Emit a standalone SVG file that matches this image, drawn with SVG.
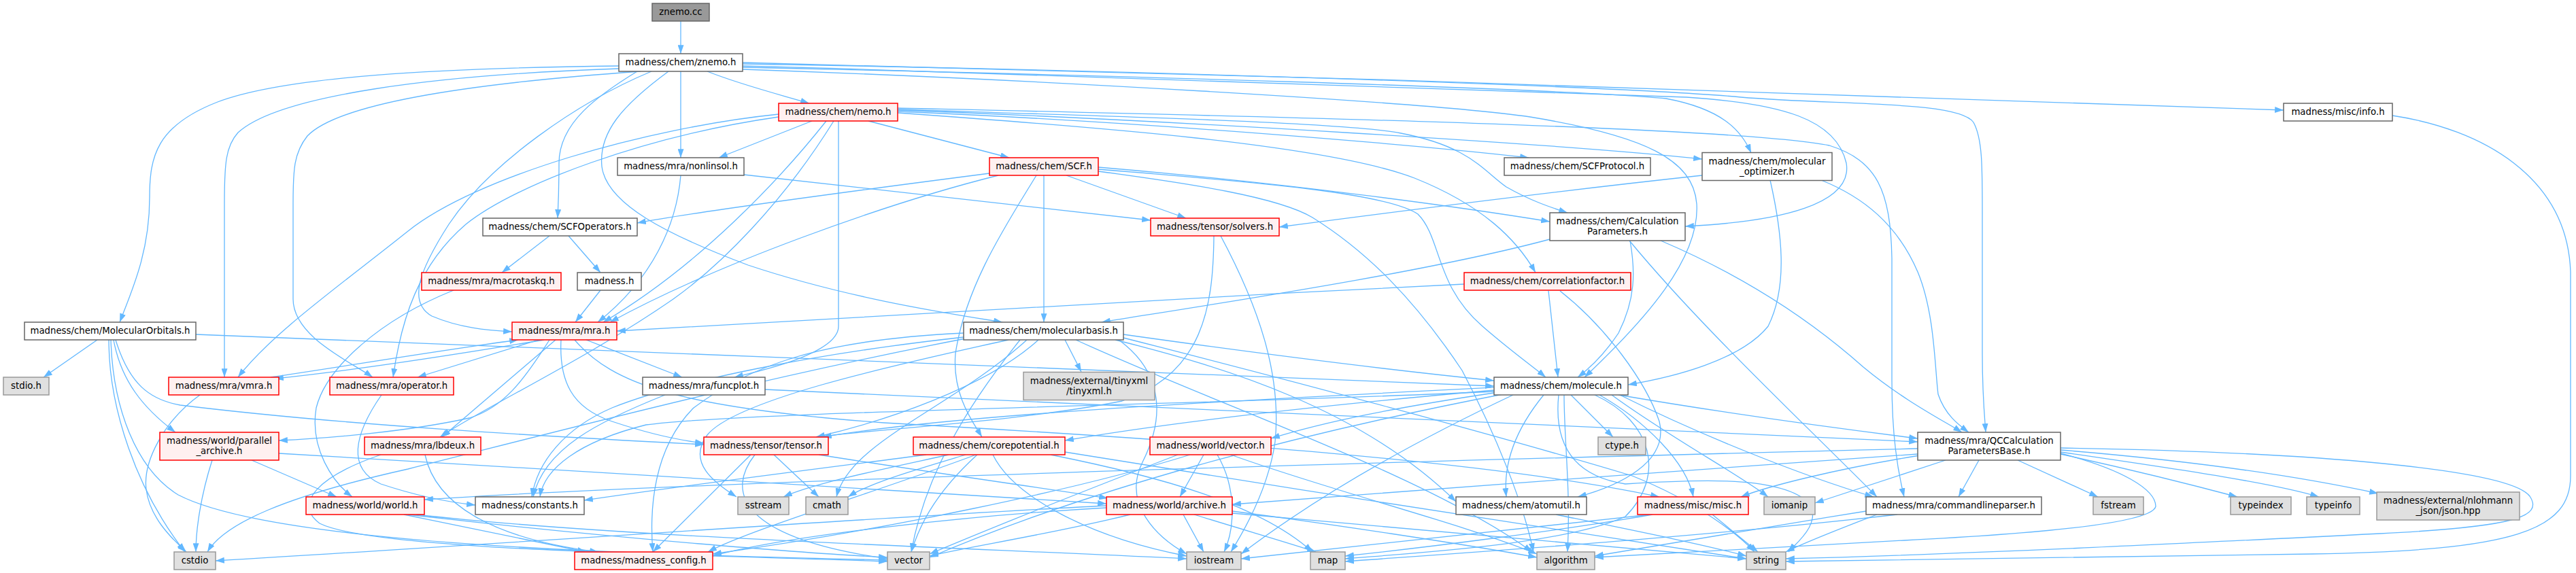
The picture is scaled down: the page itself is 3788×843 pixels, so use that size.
<svg xmlns="http://www.w3.org/2000/svg" width="3788" height="843" viewBox="0 0 3788 843">
<style>
.e{fill:none;stroke:#63b8ff;stroke-width:1.3;marker-end:url(#a)}
rect{stroke-width:1.5}
.w rect{fill:#ffffff;stroke:#666666}
.r rect{fill:#fff0f0;stroke:#ff0000}
.g rect{fill:#e0e0e0;stroke:#999999}
.root rect{fill:#999999;stroke:#666666}
text{font-family:"DejaVu Sans","Liberation Sans",sans-serif;font-size:13.3px;fill:#000000;text-anchor:middle}
</style>
<defs>
<marker id="a" viewBox="0 0 10 7" refX="10" refY="3.5" markerWidth="13" markerHeight="9" markerUnits="userSpaceOnUse" orient="auto"><path d="M0,0L10,3.5L0,7z" fill="#63b8ff"/></marker>
</defs>
<rect x="0" y="0" width="3788" height="843" fill="#ffffff" stroke="none"/>
<g id="edges">
<path class="e" d="M1001,31 L1001,79"/>
<path class="e" d="M1040,105 C1090,125 1150,140 1190,152"/>
<path class="e" d="M1001,105 L1001,232"/>
<path class="e" d="M937,105 C880,140 822,180 822,240 C822,280 821,300 820,321"/>
<path class="e" d="M910,97 C650,100 420,112 320,150 C230,185 220,230 220,290 C220,370 195,425 176,474"/>
<path class="e" d="M910,101 C640,110 410,140 350,195 C332,215 330,240 330,300 L330,555"/>
<path class="e" d="M942,105 C700,122 500,150 452,200 C432,225 431,250 431,300 L431,440 C431,495 515,532 548,555"/>
<path class="e" d="M958,105 C850,150 720,240 660,330 C615,400 600,445 635,465 C675,482 715,486 753,488"/>
<path class="e" d="M983,105 C915,155 880,195 885,245 C892,300 980,345 1100,390 C1250,440 1400,462 1474,474"/>
<path class="e" d="M1092,92 C1800,108 2800,140 3358,162"/>
<path class="e" d="M1092,94 C1700,104 2400,128 2560,143 C2700,155 2880,148 2902,180 C2916,205 2915,250 2915,330 L2915,520 C2915,580 2918,610 2920,636"/>
<path class="e" d="M1092,97 C1700,113 2350,135 2480,143 C2620,152 2700,175 2715,240 C2725,300 2620,326 2478,333"/>
<path class="e" d="M1092,99 C1600,110 2300,130 2450,145 C2530,160 2560,190 2575,225"/>
<path class="e" d="M1092,102 C1500,116 2100,150 2250,172 C2420,200 2490,235 2495,300 C2500,380 2420,470 2330,555"/>
<path class="e" d="M1277,178 L1484,232"/>
<path class="e" d="M1194,178 L1057,232"/>
<path class="e" d="M1215,178 C1150,260 1030,390 887,474"/>
<path class="e" d="M1226,178 C1150,300 1060,390 990,440 C860,530 710,600 647,643"/>
<path class="e" d="M1233,178 C1233,300 1233,420 1233,480 C1233,520 1120,545 1080,555"/>
<path class="e" d="M1145,168 C950,188 700,260 600,340 C500,420 400,490 350,555"/>
<path class="e" d="M1145,172 C950,200 760,270 685,330 C615,390 590,470 578,555"/>
<path class="e" d="M1320,164 C1700,180 2100,215 2248,232"/>
<path class="e" d="M1320,162 C1700,176 2300,212 2503,234"/>
<path class="e" d="M1320,161 C1600,170 1980,180 2060,196 C2160,215 2180,250 2215,275 C2250,295 2280,305 2305,313"/>
<path class="e" d="M1320,166 C1600,186 1950,212 2080,262 C2180,302 2230,352 2258,401"/>
<path class="e" d="M1320,159 C1800,170 2550,186 2690,214 C2760,236 2780,280 2782,380 L2782,560 C2782,640 2790,690 2800,731"/>
<path class="e" d="M1568,258 L1744,321"/>
<path class="e" d="M1535,258 L1535,474"/>
<path class="e" d="M1524,258 C1480,330 1420,420 1405,520 C1400,580 1430,620 1444,643"/>
<path class="e" d="M1455,255 C1200,288 1000,316 937,328"/>
<path class="e" d="M1468,258 C1300,300 1050,390 897,474"/>
<path class="e" d="M1615,246 C1900,270 2150,305 2279,326"/>
<path class="e" d="M1615,249 C1850,268 2040,284 2085,315 C2120,350 2110,420 2180,480 C2220,515 2255,540 2273,555"/>
<path class="e" d="M1615,252 C1750,270 1880,290 1930,320 C2010,370 2080,440 2150,545 C2200,640 2240,740 2255,812"/>
<path class="e" d="M1001,258 C995,330 960,410 879,474"/>
<path class="e" d="M1094,257 L1692,324"/>
<path class="e" d="M808,347 L738,401"/>
<path class="e" d="M836,347 L883,401"/>
<path class="e" d="M667,427 C560,470 480,540 465,600 C455,660 490,710 518,731"/>
<path class="e" d="M883,427 L846,474"/>
<path class="e" d="M1785,347 C1784,450 1770,550 1650,590 C1500,620 1300,630 1200,643"/>
<path class="e" d="M1795,347 C1850,450 1885,550 1875,650 C1865,720 1830,780 1810,812"/>
<path class="e" d="M2503,258 C2300,280 2100,305 1881,334"/>
<path class="e" d="M2603,265 C2620,340 2630,420 2600,480 C2560,530 2460,555 2394,566"/>
<path class="e" d="M2678,265 C2740,290 2790,330 2820,400 C2845,460 2845,540 2850,580 C2860,610 2880,625 2895,636"/>
<path class="e" d="M2279,352 C2100,400 1800,445 1620,474"/>
<path class="e" d="M2397,354 C2405,400 2405,440 2380,490 C2360,520 2340,540 2320,555"/>
<path class="e" d="M2442,354 C2550,400 2650,460 2740,540 C2800,590 2860,620 2885,636"/>
<path class="e" d="M2396,354 C2500,480 2650,620 2760,731"/>
<path class="e" d="M2153,418 C1700,440 1200,470 907,487"/>
<path class="e" d="M2277,428 L2291,555"/>
<path class="e" d="M2294,428 C2360,480 2420,560 2440,620 C2455,680 2380,715 2320,731"/>
<path class="e" d="M143,500 L64,555"/>
<path class="e" d="M167,500 C178,560 210,600 258,636"/>
<path class="e" d="M160,500 C160,600 200,720 272,812"/>
<path class="e" d="M288,492 C900,515 1600,545 2197,568"/>
<path class="e" d="M170,500 C190,565 220,588 265,596 C500,625 800,642 1035,654"/>
<path class="e" d="M163,500 C166,600 200,690 262,728 C400,800 900,815 1305,824"/>
<path class="e" d="M398,555 C500,540 650,515 762,500"/>
<path class="e" d="M294,581 C240,620 210,680 215,720 C220,760 250,790 274,812"/>
<path class="e" d="M800,500 C680,520 520,545 404,557"/>
<path class="e" d="M792,500 L614,555"/>
<path class="e" d="M808,500 C770,560 740,600 690,615 C600,635 480,645 410,648"/>
<path class="e" d="M817,500 L650,643"/>
<path class="e" d="M862,500 L1003,555"/>
<path class="e" d="M825,500 C822,560 840,600 900,620 C960,640 1000,648 1035,652"/>
<path class="e" d="M845,500 C900,565 1000,600 1300,622 C1800,650 2200,680 2440,731"/>
<path class="e" d="M561,581 C520,640 510,690 560,712 C620,732 670,740 699,743"/>
<path class="e" d="M312,677 C295,730 288,780 288,812"/>
<path class="e" d="M370,677 L495,731"/>
<path class="e" d="M410,667 C800,690 1300,720 1627,741"/>
<path class="e" d="M625,669 C640,740 720,792 880,812"/>
<path class="e" d="M560,669 C470,700 430,740 470,770 C550,810 1000,815 1305,826"/>
<path class="e" d="M594,757 L862,812"/>
<path class="e" d="M612,757 C900,790 1400,805 1745,822"/>
<path class="e" d="M600,757 C900,792 1200,815 1305,820"/>
<path class="e" d="M978,581 C880,620 800,660 784,731"/>
<path class="e" d="M1125,573 C1700,600 2400,630 2820,650"/>
<path class="e" d="M1566,500 L1590,547"/>
<path class="e" d="M1527,500 C1450,570 1300,620 1200,643"/>
<path class="e" d="M1652,492 C1850,520 2050,545 2197,560"/>
<path class="e" d="M1640,500 C1800,540 2000,600 2141,738"/>
<path class="e" d="M1582,500 C1800,600 2100,700 2253,812"/>
<path class="e" d="M1645,500 C1700,540 1720,600 1680,680 C1650,740 1700,790 1745,815"/>
<path class="e" d="M1483,500 C1300,540 1080,590 1040,640 C1010,680 1050,710 1083,731"/>
<path class="e" d="M1510,500 C1400,600 1250,650 1230,731"/>
<path class="e" d="M1417,496 C1200,520 1000,560 900,600 C830,630 790,680 782,731"/>
<path class="e" d="M1417,490 C1200,500 1100,540 1020,600 C960,660 955,750 960,812"/>
<path class="e" d="M1500,500 C1420,600 1360,700 1340,812"/>
<path class="e" d="M1652,497 C1900,560 2200,640 2400,700 C2500,740 2560,790 2580,812"/>
<path class="e" d="M1420,498 C1100,560 800,640 600,690 C420,730 330,770 305,812"/>
<path class="e" d="M1104,669 L960,812"/>
<path class="e" d="M1110,669 C1070,720 1080,790 1305,822"/>
<path class="e" d="M1138,669 L1204,731"/>
<path class="e" d="M1204,669 C1400,700 1550,720 1629,733"/>
<path class="e" d="M1362,669 C1200,690 1000,715 859,736"/>
<path class="e" d="M1395,669 C1300,690 1200,710 1152,731"/>
<path class="e" d="M1420,669 C1350,690 1280,710 1247,731"/>
<path class="e" d="M1435,669 C1300,720 1100,780 1041,812"/>
<path class="e" d="M1437,669 C1370,730 1350,780 1340,812"/>
<path class="e" d="M1460,669 C1490,730 1600,790 1745,818"/>
<path class="e" d="M1545,669 C1700,700 1850,740 1930,812"/>
<path class="e" d="M1566,665 C1900,720 2300,780 2568,822"/>
<path class="e" d="M1732,669 C1600,720 1450,780 1367,815"/>
<path class="e" d="M1750,669 C1586,720 1300,780 1048,815"/>
<path class="e" d="M1770,669 L1735,731"/>
<path class="e" d="M1790,669 C1820,720 1815,780 1800,812"/>
<path class="e" d="M1810,669 C1950,720 2150,770 2260,815"/>
<path class="e" d="M1662,757 C1550,785 1420,805 1367,818"/>
<path class="e" d="M1740,757 L1770,812"/>
<path class="e" d="M1756,757 C1830,780 1900,800 1935,812"/>
<path class="e" d="M1812,752 C1950,770 2150,800 2260,820"/>
<path class="e" d="M1627,747 C1400,760 1150,790 1048,818"/>
<path class="e" d="M1627,744 C1300,760 900,790 317,825"/>
<path class="e" d="M1812,755 C2100,780 2350,805 2568,822"/>
<path class="e" d="M2270,581 C2230,630 2210,680 2215,731"/>
<path class="e" d="M2310,581 L2372,643"/>
<path class="e" d="M2352,581 C2420,620 2480,680 2490,731"/>
<path class="e" d="M2370,581 C2450,640 2560,700 2600,731"/>
<path class="e" d="M2382,581 C2500,640 2650,700 2755,731"/>
<path class="e" d="M2380,581 C2550,610 2700,630 2820,645"/>
<path class="e" d="M2292,581 C2285,650 2310,700 2390,712 C2500,705 2620,700 2660,740 C2680,770 2640,800 2630,812"/>
<path class="e" d="M2345,581 C2430,620 2450,700 2390,760 C2300,800 2100,812 1978,822"/>
<path class="e" d="M2300,581 C2300,650 2310,720 2305,812"/>
<path class="e" d="M2225,581 C2100,640 1950,720 1825,815"/>
<path class="e" d="M2210,580 C1900,640 1600,720 1367,820"/>
<path class="e" d="M2197,570 C1800,590 1400,610 1210,643"/>
<path class="e" d="M2197,574 C1900,600 1700,625 1566,648"/>
<path class="e" d="M2197,578 C2050,600 1950,620 1869,645"/>
<path class="e" d="M2197,576 C1800,595 1100,605 950,625 C850,650 800,690 794,731"/>
<path class="e" d="M2288,757 C2400,780 2500,800 2568,818"/>
<path class="e" d="M2518,757 L2585,812"/>
<path class="e" d="M2430,757 C2300,780 2100,805 1978,818"/>
<path class="e" d="M2427,757 C2200,780 2000,805 1825,822"/>
<path class="e" d="M2744,752 C2600,775 2450,800 2345,818"/>
<path class="e" d="M2790,757 C2500,790 2200,810 1978,826"/>
<path class="e" d="M2760,757 C2700,780 2650,800 2626,812"/>
<path class="e" d="M2910,677 L2880,731"/>
<path class="e" d="M2967,677 L3085,731"/>
<path class="e" d="M3030,668 C3130,690 3230,715 3290,731"/>
<path class="e" d="M3030,665 C3200,690 3340,710 3410,731"/>
<path class="e" d="M3030,662 C3250,680 3400,705 3497,726"/>
<path class="e" d="M2861,677 L2669,740"/>
<path class="e" d="M2823,670 C2700,690 2600,715 2560,731"/>
<path class="e" d="M3030,659 C3400,665 3690,690 3720,730 C3740,760 3700,775 3500,785 C3200,800 2900,815 2626,822"/>
<path class="e" d="M3030,667 C3120,690 3170,720 3170,745 C3165,770 3000,785 2800,795 C2600,805 2450,815 2345,820"/>
<path class="e" d="M2820,660 C2000,680 1000,710 624,735"/>
<path class="e" d="M2820,668 C2500,690 2100,720 1812,742"/>
<path class="e" d="M3518,170 C3650,190 3775,260 3780,400 L3780,700 C3780,780 3700,810 3400,815 C3100,820 2800,825 2626,826"/>
</g>
<g id="n0" class="root"><rect x="959" y="5" width="84" height="26"/><text x="1001" y="22">znemo.cc</text></g>
<g id="n1" class="w"><rect x="910" y="79" width="182" height="26"/><text x="1001" y="96">madness/chem/znemo.h</text></g>
<g id="n2" class="r"><rect x="1145" y="152" width="175" height="26"/><text x="1232.5" y="169">madness/chem/nemo.h</text></g>
<g id="n3" class="r"><rect x="1455" y="232" width="160" height="26"/><text x="1535" y="249">madness/chem/SCF.h</text></g>
<g id="n4" class="r"><rect x="1692" y="321" width="189" height="26"/><text x="1786.5" y="338">madness/tensor/solvers.h</text></g>
<g id="n5" class="w"><rect x="908" y="232" width="186" height="26"/><text x="1001" y="249">madness/mra/nonlinsol.h</text></g>
<g id="n6" class="w"><rect x="710" y="321" width="227" height="26"/><text x="823.5" y="338">madness/chem/SCFOperators.h</text></g>
<g id="n7" class="r"><rect x="620" y="401" width="205" height="26"/><text x="722.5" y="418">madness/mra/macrotaskq.h</text></g>
<g id="n8" class="w"><rect x="849" y="401" width="94" height="26"/><text x="896" y="418">madness.h</text></g>
<g id="n9" class="w"><rect x="2212" y="232" width="215" height="26"/><text x="2319.5" y="249">madness/chem/SCFProtocol.h</text></g>
<g id="n10" class="w"><rect x="2503" y="224.5" width="191" height="41"/><text x="2598.5" y="241.5">madness/chem/molecular</text><text x="2598.5" y="256.5">_optimizer.h</text></g>
<g id="n11" class="w"><rect x="2279" y="313" width="199" height="41"/><text x="2378.5" y="330">madness/chem/Calculation</text><text x="2378.5" y="345">Parameters.h</text></g>
<g id="n12" class="r"><rect x="2153" y="401" width="245" height="26"/><text x="2275.5" y="418">madness/chem/correlationfactor.h</text></g>
<g id="n13" class="w"><rect x="3358" y="152" width="160" height="26"/><text x="3438" y="169">madness/misc/info.h</text></g>
<g id="n14" class="w"><rect x="36" y="474" width="252" height="26"/><text x="162" y="491">madness/chem/MolecularOrbitals.h</text></g>
<g id="n15" class="g"><rect x="5" y="555" width="67" height="26"/><text x="38.5" y="572">stdio.h</text></g>
<g id="n16" class="r"><rect x="248" y="555" width="162" height="26"/><text x="329" y="572">madness/mra/vmra.h</text></g>
<g id="n17" class="r"><rect x="485" y="555" width="182" height="26"/><text x="576" y="572">madness/mra/operator.h</text></g>
<g id="n18" class="r"><rect x="753" y="474" width="154" height="26"/><text x="830" y="491">madness/mra/mra.h</text></g>
<g id="n19" class="r"><rect x="235" y="636" width="175" height="41"/><text x="322.5" y="653">madness/world/parallel</text><text x="322.5" y="668">_archive.h</text></g>
<g id="n20" class="r"><rect x="536" y="643" width="171" height="26"/><text x="621.5" y="660">madness/mra/lbdeux.h</text></g>
<g id="n21" class="r"><rect x="450" y="731" width="174" height="26"/><text x="537" y="748">madness/world/world.h</text></g>
<g id="n22" class="w"><rect x="699" y="731" width="160" height="26"/><text x="779" y="748">madness/constants.h</text></g>
<g id="n23" class="g"><rect x="256" y="812" width="61" height="26"/><text x="286.5" y="829">cstdio</text></g>
<g id="n24" class="r"><rect x="845" y="812" width="203" height="26"/><text x="946.5" y="829">madness/madness_config.h</text></g>
<g id="n25" class="w"><rect x="1417" y="474" width="235" height="26"/><text x="1534.5" y="491">madness/chem/molecularbasis.h</text></g>
<g id="n26" class="w"><rect x="945" y="555" width="180" height="26"/><text x="1035" y="572">madness/mra/funcplot.h</text></g>
<g id="n27" class="g"><rect x="1505" y="547.5" width="193" height="41"/><text x="1601.5" y="564.5">madness/external/tinyxml</text><text x="1601.5" y="579.5">/tinyxml.h</text></g>
<g id="n28" class="r"><rect x="1035" y="643" width="183" height="26"/><text x="1126.5" y="660">madness/tensor/tensor.h</text></g>
<g id="n29" class="r"><rect x="1343" y="643" width="223" height="26"/><text x="1454.5" y="660">madness/chem/corepotential.h</text></g>
<g id="n30" class="r"><rect x="1691" y="643" width="178" height="26"/><text x="1780" y="660">madness/world/vector.h</text></g>
<g id="n31" class="g"><rect x="1085" y="731" width="75" height="26"/><text x="1122.5" y="748">sstream</text></g>
<g id="n32" class="g"><rect x="1185" y="731" width="62" height="26"/><text x="1216" y="748">cmath</text></g>
<g id="n33" class="r"><rect x="1627" y="731" width="185" height="26"/><text x="1719.5" y="748">madness/world/archive.h</text></g>
<g id="n34" class="g"><rect x="1305" y="812" width="62" height="26"/><text x="1336" y="829">vector</text></g>
<g id="n35" class="g"><rect x="1745" y="812" width="80" height="26"/><text x="1785" y="829">iostream</text></g>
<g id="n36" class="w"><rect x="2197" y="555" width="197" height="26"/><text x="2295.5" y="572">madness/chem/molecule.h</text></g>
<g id="n37" class="g"><rect x="2350" y="643" width="70" height="26"/><text x="2385" y="660">ctype.h</text></g>
<g id="n38" class="w"><rect x="2141" y="731" width="192" height="26"/><text x="2237" y="748">madness/chem/atomutil.h</text></g>
<g id="n39" class="r"><rect x="2408" y="731" width="163" height="26"/><text x="2489.5" y="748">madness/misc/misc.h</text></g>
<g id="n40" class="g"><rect x="2594" y="731" width="75" height="26"/><text x="2631.5" y="748">iomanip</text></g>
<g id="n41" class="w"><rect x="2744" y="731" width="258" height="26"/><text x="2873" y="748">madness/mra/commandlineparser.h</text></g>
<g id="n42" class="g"><rect x="1927" y="812" width="51" height="26"/><text x="1952.5" y="829">map</text></g>
<g id="n43" class="g"><rect x="2260" y="812" width="85" height="26"/><text x="2302.5" y="829">algorithm</text></g>
<g id="n44" class="g"><rect x="2568" y="812" width="58" height="26"/><text x="2597" y="829">string</text></g>
<g id="n45" class="w"><rect x="2820" y="636" width="210" height="41"/><text x="2925" y="653">madness/mra/QCCalculation</text><text x="2925" y="668">ParametersBase.h</text></g>
<g id="n46" class="g"><rect x="3078" y="731" width="74" height="26"/><text x="3115" y="748">fstream</text></g>
<g id="n47" class="g"><rect x="3280" y="731" width="89" height="26"/><text x="3324.5" y="748">typeindex</text></g>
<g id="n48" class="g"><rect x="3392" y="731" width="78" height="26"/><text x="3431" y="748">typeinfo</text></g>
<g id="n49" class="g"><rect x="3495" y="724" width="210" height="41"/><text x="3600" y="741">madness/external/nlohmann</text><text x="3600" y="756">_json/json.hpp</text></g>
</svg>
